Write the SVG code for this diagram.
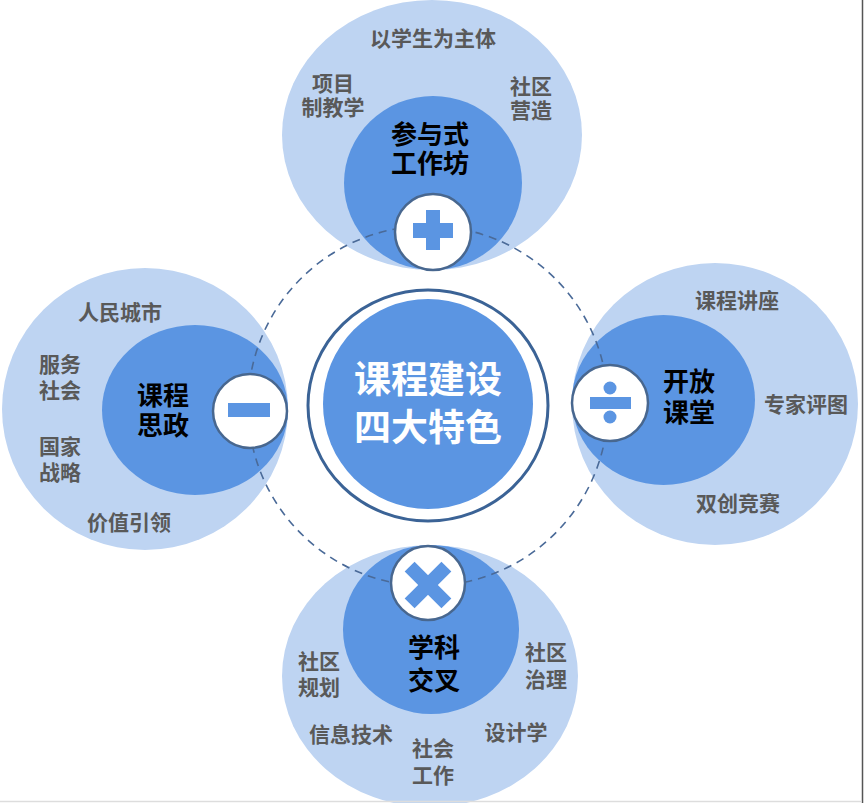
<svg xmlns="http://www.w3.org/2000/svg" width="865" height="803" viewBox="0 0 865 803">
<defs>
<style>
.light{fill:#bed4f2}
.dark{fill:#5b95e2}
.op{fill:#ffffff;stroke:#48678f;stroke-width:2.5}
.sym{fill:#5b95e2}
text{font-family:"Noto Sans CJK SC","Noto Sans",sans-serif;font-weight:bold;text-anchor:middle}
.outer{font-size:21px;fill:#595959}
.inner{font-size:26px;fill:#000000}
.center{font-size:37px;fill:#ffffff}
</style>
</defs>
<rect width="865" height="803" fill="#ffffff"/>

<g id="node-top">
<ellipse class="light" cx="432" cy="135" rx="150" ry="135"/>
<ellipse class="dark" cx="433" cy="183" rx="89" ry="87"/>
<text class="outer" x="433" y="45.6">以学生为主体</text>
<text class="outer" x="333" y="91">项目<tspan x="333" dy="24">制教学</tspan></text>
<text class="outer" x="531" y="93.5">社区<tspan x="531" dy="24">营造</tspan></text>
<text class="inner" x="430" y="143.5">参与式<tspan x="430" dy="29.5">工作坊</tspan></text>
</g>

<g id="node-left">
<ellipse class="light" cx="145" cy="409" rx="143" ry="141"/>
<ellipse class="dark" cx="195" cy="410" rx="93" ry="85"/>
<text class="outer" x="120" y="319.6">人民城市</text>
<text class="outer" x="60" y="371.6">服务<tspan x="60" dy="26">社会</tspan></text>
<text class="outer" x="60" y="453.6">国家<tspan x="60" dy="26">战略</tspan></text>
<text class="outer" x="129" y="530">价值引领</text>
<text class="inner" x="163" y="404.5">课程<tspan x="163" dy="30.5">思政</tspan></text>
</g>

<g id="node-right">
<ellipse class="light" cx="715" cy="404" rx="143" ry="141"/>
<ellipse class="dark" cx="663.5" cy="400" rx="91.5" ry="85"/>
<text class="outer" x="737" y="307.6">课程讲座</text>
<text class="outer" x="806" y="411.6">专家评图</text>
<text class="outer" x="738" y="510.6">双创竞赛</text>
<text class="inner" x="689" y="390.5">开放<tspan x="689" dy="31.5">课堂</tspan></text>
</g>

<g id="node-bottom">
<ellipse class="light" cx="430" cy="676" rx="148" ry="131"/>
<ellipse class="dark" cx="431" cy="629.5" rx="88" ry="84.5"/>
<text class="inner" x="434" y="657">学科<tspan x="434" dy="33">交叉</tspan></text>
<text class="outer" x="546" y="660">社区<tspan x="546" dy="26.6">治理</tspan></text>
<text class="outer" x="319" y="668.6">社区<tspan x="319" dy="26">规划</tspan></text>
<text class="outer" x="351" y="741.6">信息技术</text>
<text class="outer" x="516" y="739.6">设计学</text>
<text class="outer" x="433" y="755.6">社会<tspan x="433" dy="27">工作</tspan></text>
</g>

<g id="connectors">
<circle cx="428" cy="406" r="180" fill="none" stroke="#4a6a98" stroke-width="1.6" stroke-dasharray="8 6"/>
</g>

<g id="node-center">
<ellipse cx="428" cy="405.5" rx="120" ry="115.5" fill="#ffffff" stroke="#3b6396" stroke-width="3"/>
<circle cx="428" cy="404" r="105" fill="#5b95e2"/>
<text class="center" x="428" y="393">课程建设<tspan x="428" dy="48">四大特色</tspan></text>
</g>

<g id="op-plus">
<circle class="op" cx="433" cy="232" r="38"/>
<rect class="sym" x="413" y="223" width="40" height="15"/>
<rect class="sym" x="426" y="210" width="14" height="40"/>
</g>

<g id="op-minus">
<circle class="op" cx="250" cy="411" r="37"/>
<rect class="sym" x="228" y="403" width="42" height="14"/>
</g>

<g id="op-divide">
<circle class="op" cx="610" cy="403" r="38"/>
<rect class="sym" x="590" y="397" width="41" height="12"/>
<circle class="sym" cx="610" cy="388" r="6.5"/>
<circle class="sym" cx="610" cy="417" r="6.5"/>
</g>

<g id="op-cross">
<circle class="op" cx="428" cy="583" r="37"/>
<g transform="rotate(45 428 585)">
<rect class="sym" x="402" y="578" width="52" height="14"/>
<rect class="sym" x="421" y="559" width="14" height="52"/>
</g>
</g>

<line x1="862.5" y1="0" x2="862.5" y2="803" stroke="#555555" stroke-width="1.5"/>
<line x1="0" y1="801.5" x2="862" y2="801.5" stroke="#dddddd" stroke-width="1.5"/>
</svg>
